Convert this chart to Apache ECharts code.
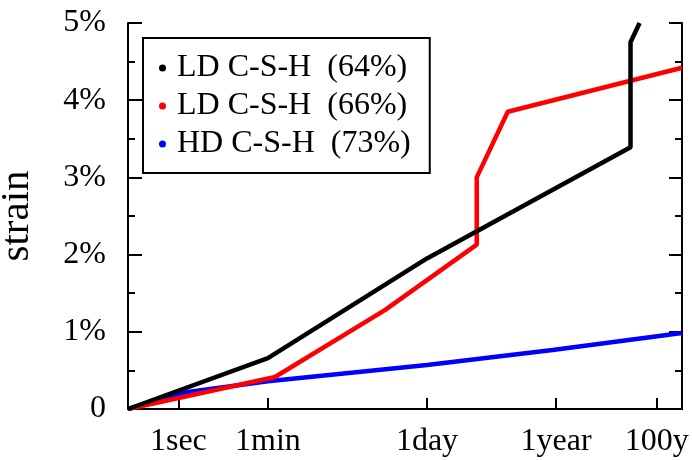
<!DOCTYPE html>
<html>
<head>
<meta charset="utf-8">
<script src="https://cdn.jsdelivr.net/npm/echarts@6/dist/echarts.min.js"></script>
<style>
  html, body { margin: 0; padding: 0; background: #fff; }
  #chart { width: 692px; height: 460px; }
</style>
</head>
<body>
<div id="chart"></div>
<script>
// time in seconds (log axis), strain in %
var ldLowTime = [0.1, 60, 86400, 9.5e8, 9.5e8, 1.44e9];
var ldLowStrain = [0, 0.66, 1.95, 3.39, 4.75, 5.0];

var ldHighTime = [0.1, 83, 1.26e4, 8.4e5, 8.4e5, 3.47e6, 1e10];
var ldHighStrain = [0, 0.415, 1.28, 2.13, 3.0, 3.85, 4.42];

var hdTime = [0.1, 1.55, 60, 86400, 2.7e7, 1e10];
var hdStrain = [0, 0.22, 0.36, 0.57, 0.765, 0.985];

var seriesNames = ['LD C-S-H  (64%)', 'LD C-S-H  (66%)', 'HD C-S-H  (73%)'];
var seriesColors = ['#000000', '#ff0000', '#0000ff'];

var timeTicks = [1, 60, 86400, 31557600, 3155760000];
var timeLabels = ['1sec', '1min', '1day', '1year', '100y'];

var font = "'Liberation Serif', 'Times New Roman', serif";

function pairs(xs, ys) {
    return xs.map(function (x, i) { return [x, ys[i]]; });
}

var chart = echarts.init(document.getElementById('chart'), null, {renderer: 'canvas'});

var xBase = {
    type: 'log',
    logBase: 10,
    min: 0.1,
    max: 1e10,
    splitLine: {show: false},
    axisLine: {lineStyle: {color: '#000', width: 2}}
};

var yBase = {
    type: 'value',
    min: 0,
    max: 5,
    interval: 1,
    splitLine: {show: false},
    axisLine: {show: true, lineStyle: {color: '#000', width: 2}},
    minorTick: {show: true, splitNumber: 2, length: 7, lineStyle: {color: '#000', width: 2}}
};

chart.setOption({
    animation: false,
    grid: {left: 128, right: 10, top: 23, bottom: 51, outerBoundsMode: 'none'},
    legend: {
        orient: 'vertical',
        left: 143,
        top: 38,
        padding: [14, 19, 13, 16],
        itemGap: 6,
        itemWidth: 19,
        itemHeight: 7,
        icon: 'circle',
        borderColor: '#000',
        borderWidth: 2,
        textStyle: {fontFamily: font, fontSize: 32, color: '#000'},
        data: seriesNames
    },
    xAxis: [
        Object.assign({}, xBase, {
            position: 'bottom',
            axisTick: {
                show: true, inside: true, length: 11,
                customValues: timeTicks,
                lineStyle: {color: '#000', width: 2}
            },
            axisLabel: {
                customValues: timeTicks,
                margin: 17,
                fontFamily: font,
                fontSize: 32,
                color: '#000',
                formatter: function (v) {
                    var i = timeTicks.indexOf(v);
                    return i >= 0 ? timeLabels[i] : '';
                }
            }
        }),
        Object.assign({}, xBase, {
            position: 'top',
            axisTick: {show: false},
            axisLabel: {show: false}
        })
    ],
    yAxis: [
        Object.assign({}, yBase, {
            position: 'left',
            name: 'strain',
            nameLocation: 'middle',
            nameRotate: 90,
            nameGap: 90,
            nameTextStyle: {fontFamily: font, fontSize: 41, color: '#000'},
            axisTick: {show: true, inside: true, length: 14, lineStyle: {color: '#000', width: 2}},
            axisLabel: {
                margin: 22,
                fontFamily: font,
                fontSize: 32,
                color: '#000',
                formatter: function (v) { return v === 0 ? '0' : v + '%'; }
            }
        }),
        Object.assign({}, yBase, {
            position: 'right',
            axisTick: {show: true, inside: true, length: 13, lineStyle: {color: '#000', width: 2}},
            axisLabel: {show: false}
        })
    ],
    series: [
        {name: seriesNames[0], data: pairs(ldLowTime, ldLowStrain)},
        {name: seriesNames[1], data: pairs(ldHighTime, ldHighStrain)},
        {name: seriesNames[2], data: pairs(hdTime, hdStrain)}
    ].map(function (s, i) {
        return {
            name: s.name,
            type: 'line',
            data: s.data,
            showSymbol: false,
            symbol: 'circle',
            clip: true,
            color: seriesColors[i],
            lineStyle: {color: seriesColors[i], width: 4.5},
            z: 3 - i
        };
    })
});
</script>
</body>
</html>
